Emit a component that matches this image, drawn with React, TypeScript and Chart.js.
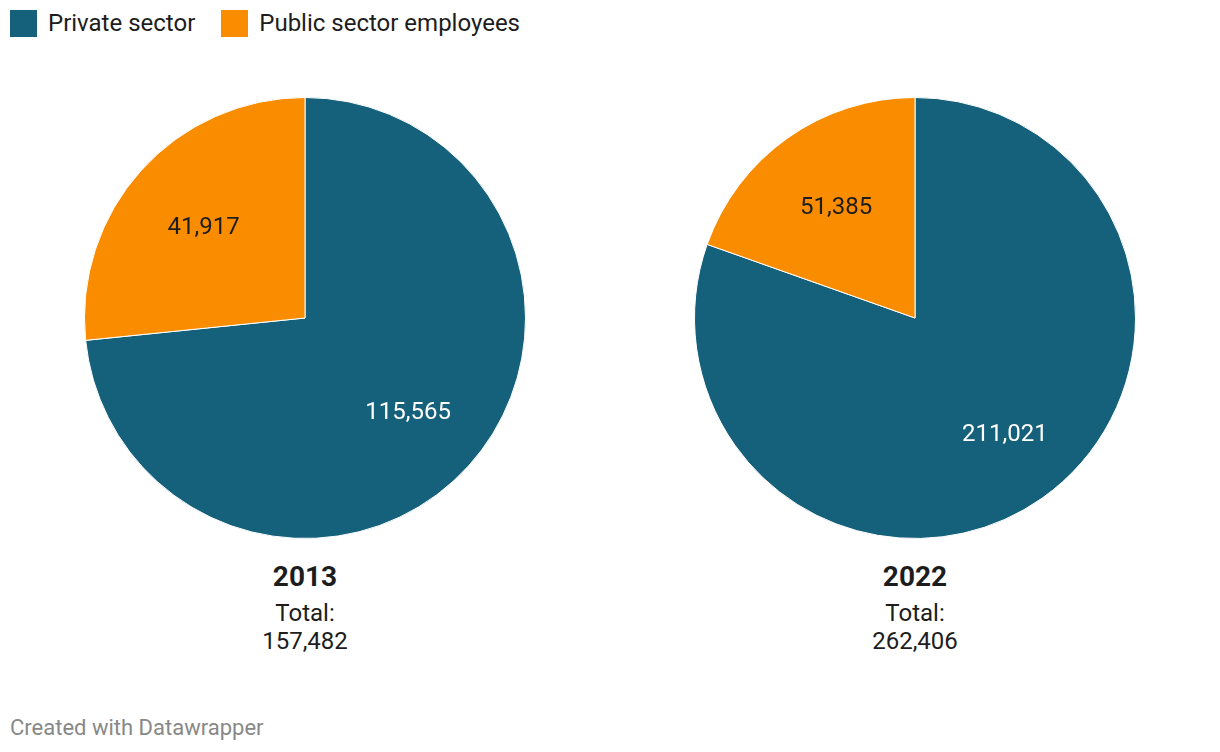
import React, { useEffect, useRef } from "react";
import { Chart, registerables } from "chart.js";

Chart.register(...registerables);

const categories = ["Private sector", "Public sector employees"];
const years = ["2013", "2022"];
const privateValues = [115565, 211021];
const publicValues = [41917, 51385];
const colors = ["#15607a", "#fa8c00"];
const labelColors = ["#ffffff", "#1d1d1d"];
// label distance from centre, as fraction of radius, per chart / per slice
const labelRadius = [
  [0.63, 0.62],
  [0.66, 0.62],
];

const FONT = "Roboto, 'Noto Sans', sans-serif";
const fmt = (v: number) => v.toLocaleString("en-US");

function makeLabelPlugin(index: number) {
  return {
    id: "sliceLabels",
    afterDatasetsDraw(chart: any) {
      const ctx = chart.ctx;
      const meta = chart.getDatasetMeta(0);
      const ds = chart.data.datasets[0];
      ctx.save();
      ctx.font = `400 24px ${FONT}`;
      ctx.textAlign = "center";
      ctx.textBaseline = "middle";
      meta.data.forEach((arc: any, i: number) => {
        const { x, y, startAngle, endAngle, outerRadius } = arc.getProps(
          ["x", "y", "startAngle", "endAngle", "outerRadius"],
          true
        );
        const mid = (startAngle + endAngle) / 2 - (index === 1 && i === 0 ? 0.05 : 0);
        const r = outerRadius * labelRadius[index][i];
        ctx.fillStyle = labelColors[i];
        ctx.fillText(fmt(ds.data[i]), x + Math.cos(mid) * r, y + Math.sin(mid) * r + 2);
      });
      ctx.restore();
    },
  };
}

function Pie({ index, left }: { index: number; left: number }) {
  const ref = useRef<HTMLCanvasElement>(null);
  useEffect(() => {
    const chart = new Chart(ref.current!, {
      type: "pie",
      data: {
        labels: categories,
        datasets: [
          {
            data: [privateValues[index], publicValues[index]],
            backgroundColor: colors,
            borderColor: "#ffffff",
            borderWidth: 1,
          },
        ],
      },
      options: {
        animation: false,
        responsive: false,
        layout: { padding: 0 },
        plugins: { legend: { display: false }, tooltip: { enabled: false } },
      },
      plugins: [makeLabelPlugin(index)],
    });
    return () => chart.destroy();
  }, [index]);
  const total = privateValues[index] + publicValues[index];
  return (
    <>
      <canvas
        ref={ref}
        width={442}
        height={442}
        style={{ position: "absolute", left: left - 221, top: 318 - 221, width: 442, height: 442 }}
      />
      <div
        style={{
          position: "absolute",
          left: left - 150,
          width: 300,
          top: 560,
          textAlign: "center",
          color: "#1d1d1d",
        }}
      >
        <div style={{ fontWeight: 700, fontSize: 28, lineHeight: "34px" }}>{years[index]}</div>
        <div style={{ fontSize: 24, lineHeight: "28px", marginTop: 5 }}>Total:</div>
        <div style={{ fontSize: 24, lineHeight: "28px" }}>{fmt(total)}</div>
      </div>
    </>
  );
}

export default function App() {
  return (
    <div
      style={{
        position: "absolute",
        left: 0,
        top: 0,
        width: 1220,
        height: 752,
        background: "#ffffff",
        fontFamily: FONT,
        overflow: "hidden",
      }}
    >
      <div style={{ position: "absolute", left: 10, top: 10, display: "flex", alignItems: "center" }}>
        {categories.map((c, i) => (
          <div key={c} style={{ display: "flex", alignItems: "center", marginRight: 26 }}>
            <div style={{ width: 27, height: 27, background: colors[i], marginRight: 11 }} />
            <span style={{ fontSize: 24, color: "#1d1d1d", lineHeight: "27px" }}>{c}</span>
          </div>
        ))}
      </div>
      <Pie index={0} left={305} />
      <Pie index={1} left={915} />
      <div
        style={{
          position: "absolute",
          left: 10,
          top: 714,
          fontSize: 22,
          color: "#888888",
          lineHeight: "28px",
        }}
      >
        Created with Datawrapper
      </div>
    </div>
  );
}
